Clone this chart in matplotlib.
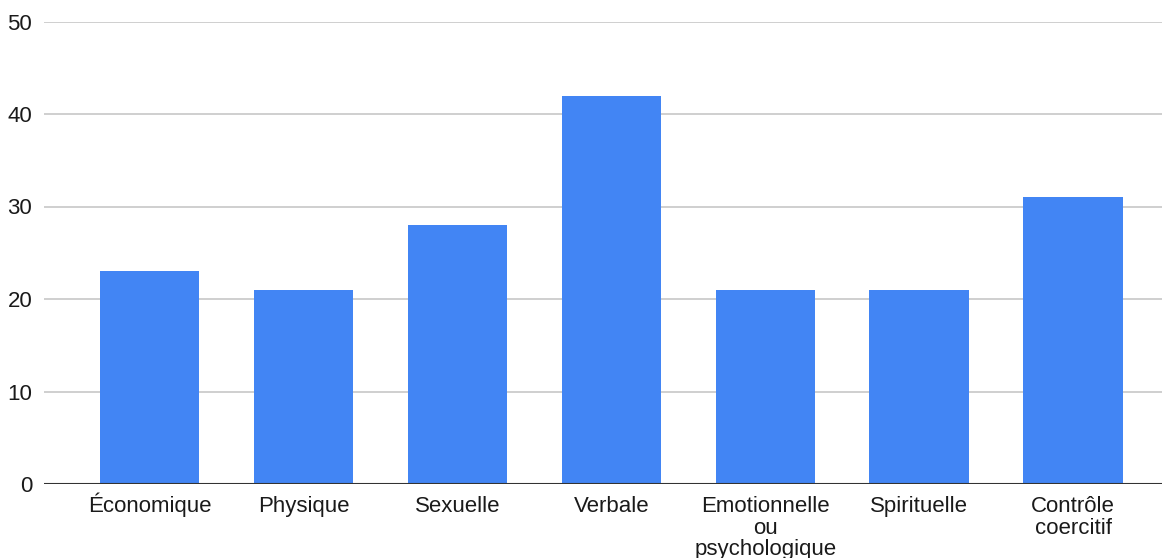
import matplotlib
matplotlib.use("Agg")
import matplotlib.pyplot as plt

categories = ["Économique", "Physique", "Sexuelle", "Verbale",
              "Emotionnelle\nou\npsychologique", "Spirituelle", "Contrôle\ncoercitif"]
values = [23, 21, 28, 42, 21, 21, 31]
y_ticks = [0, 10, 20, 30, 40, 50]

plt.rcParams['font.family'] = ['Liberation Sans', 'DejaVu Sans']

W, H = 1162, 558
fig = plt.figure(figsize=(W / 100, H / 100), dpi=100)
ax = fig.add_axes([44 / W, 1 - 484 / H, 1 - 44 / W, (484 - 21.5) / H])

x = list(range(len(categories)))
ax.bar(x, values, width=0.646, color="#4285F4", zorder=3)

ax.set_xlim(-0.687, 6.578)
ax.set_ylim(0, 50)
ax.set_yticks(y_ticks)
ax.set_yticklabels([str(t) for t in y_ticks])
ax.set_xticks(x)
ax.set_xticklabels([])

# Category labels: every line sits on a common baseline grid below the axis
label_size = 16
first_baseline = 20.2   # points below the axis
line_step = 15.5        # points between baselines
for xi, label in zip(x, categories):
    for k, line in enumerate(label.split("\n")):
        ax.annotate(line, xy=(xi, 0), xycoords=ax.get_xaxis_transform(),
                    xytext=(0, -(first_baseline + k * line_step)),
                    textcoords="offset points", ha="center", va="baseline",
                    fontsize=label_size, color="#1a1a1a", annotation_clip=False)

ax.grid(axis="y", color="#cccccc", linewidth=1.3, zorder=0)
ax.axhline(0, color="#333333", linewidth=1.5, zorder=4)

for s in ax.spines.values():
    s.set_visible(False)
ax.tick_params(axis="both", length=0, labelsize=label_size, colors="#1a1a1a")
ax.tick_params(axis="y", pad=8.5)

fig.savefig("out.png", dpi=100, facecolor="white")
